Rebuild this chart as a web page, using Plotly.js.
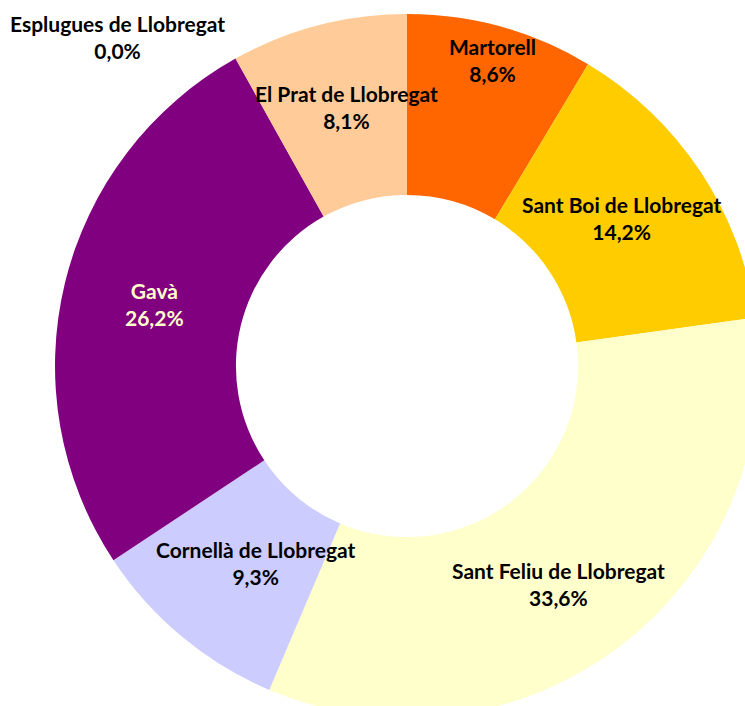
<!DOCTYPE html>
<html>
<head>
<meta charset="utf-8">
<script src="https://cdn.plot.ly/plotly-3.0.1.min.js"></script>
<style>
  html, body { margin: 0; padding: 0; overflow: hidden; background: #ffffff; }
  #chart { position: absolute; left: 0; top: 0; }
</style>
</head>
<body>
<div id="chart"></div>
<script>
// Data
const labels = ["Martorell", "Sant Boi de Llobregat", "Sant Feliu de Llobregat", "Cornellà de Llobregat", "Gavà", "Esplugues de Llobregat", "El Prat de Llobregat"];
const values = [8.6, 14.2, 33.6, 9.3, 26.2, 0.0, 8.1];
const colors = ["#FF6600", "#FFCC00", "#FFFFCC", "#CCCCFF", "#800080", "#99CCFF", "#FFCC99"];

// Label placement (pixels) and text colours — style only
const labelPos = [[492, 60], [622, 218], [558, 584], [256, 563], [154, 304], [117, 37], [346, 107]];
const labelColors = ["#000000", "#000000", "#000000", "#000000", "#FFFFCC", "#000000", "#000000"];

const W = 800, H = 760;
const cx = 407, cy = 366, R = 352;

const fmt = v => v.toFixed(1).replace('.', ',') + '%';

const annotations = labels.map((l, i) => ({
  text: l + '<br>' + fmt(values[i]),
  x: labelPos[i][0] / W,
  y: 1 - labelPos[i][1] / H,
  xref: 'paper', yref: 'paper',
  xanchor: 'center', yanchor: 'middle',
  showarrow: false,
  align: 'center',
  font: { family: 'Lato, "Liberation Sans", sans-serif', size: 21, color: labelColors[i], weight: 'bold' }
}));

const trace = {
  type: 'pie',
  labels: labels,
  values: values,
  sort: false,
  direction: 'clockwise',
  rotation: 0,
  hole: 0.486,
  marker: { colors: colors, line: { width: 0 } },
  textinfo: 'none',
  hoverinfo: 'label+percent',
  showlegend: false,
  domain: { x: [(cx - R) / W, (cx + R) / W], y: [1 - (cy + R) / H, 1 - (cy - R) / H] }
};

Plotly.newPlot('chart', [trace], {
  width: W, height: H,
  margin: { l: 0, r: 0, t: 0, b: 0 },
  paper_bgcolor: '#ffffff',
  plot_bgcolor: '#ffffff',
  showlegend: false,
  annotations: annotations
}, { displayModeBar: false, staticPlot: true });
</script>
</body>
</html>
